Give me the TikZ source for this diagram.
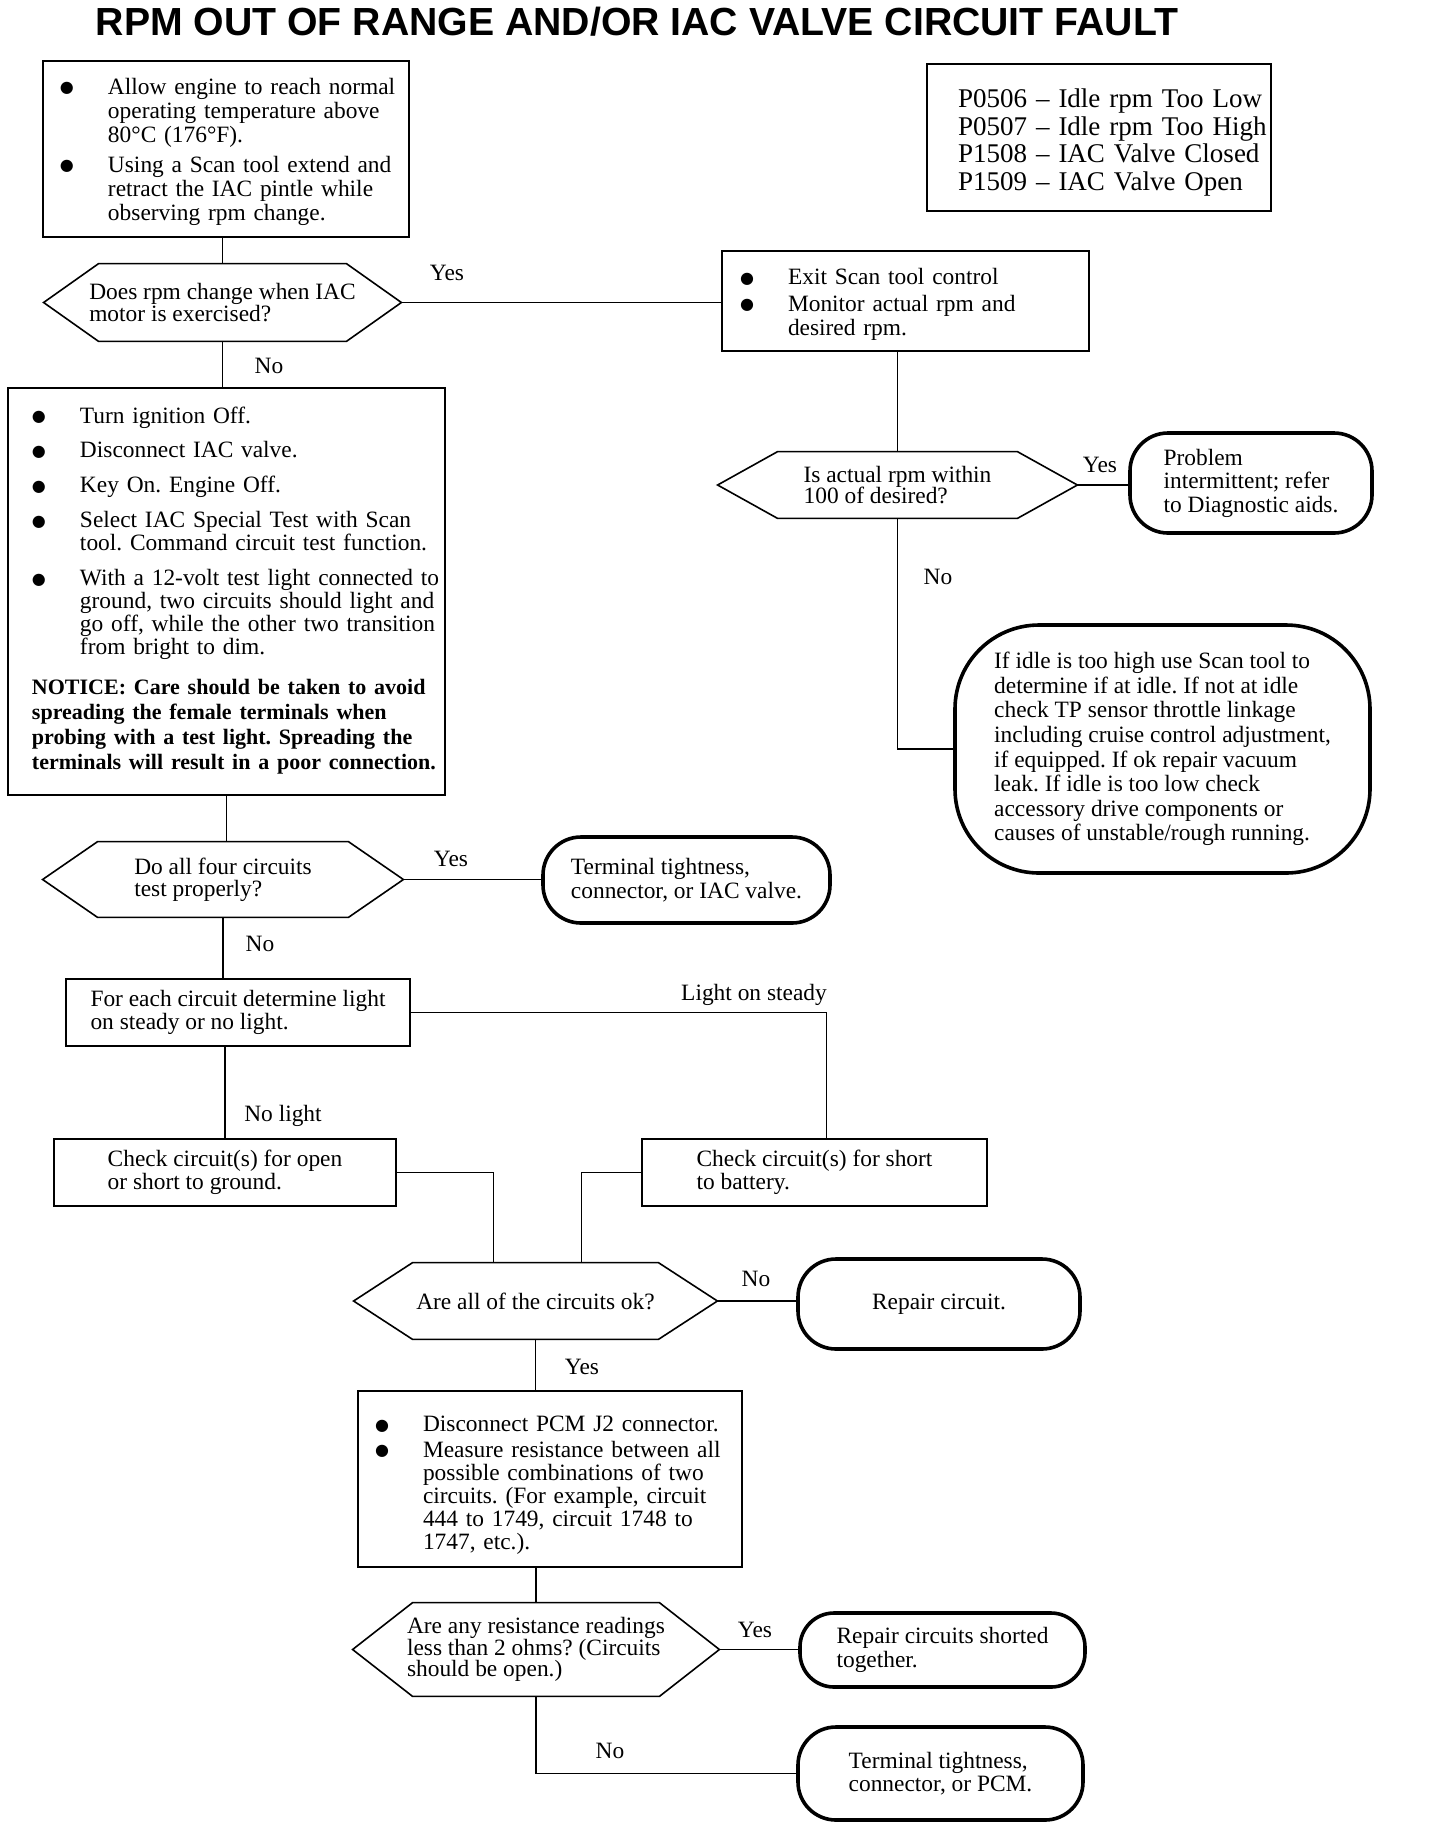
\documentclass[tikz,border=0pt]{standalone}
\usepackage{fontspec}
\usepackage{array}
\setmainfont{Liberation Serif}
\newfontfamily\titlefont{Liberation Sans}
\newfontfamily\dotfont{DejaVu Sans}
\usetikzlibrary{positioning}

\frenchspacing
\newcommand{\bodyfont}{\fontsize{11.7}{11.7}\selectfont}
\newcommand{\bigdot}{\raisebox{0.8pt}{\dotfont\fontsize{8}{8}\selectfont ●}}
\newcommand{\noticefont}{\fontsize{11}{11}\selectfont\bfseries}
\newenvironment{bullets}{\noindent\begin{tabular}{@{}p{24pt}@{}l@{}}}{\end{tabular}}
%hexagon drawn on the box of a decision node
\newcommand{\hexbox}[2]{%
  \draw[hexline] ([xshift=#2]#1.north west) -- ([xshift=-#2]#1.north east) -- (#1.east)
    -- ([xshift=-#2]#1.south east) -- ([xshift=#2]#1.south west) -- (#1.west) -- cycle;}

\tikzset{
  stepbox/.style={draw, line width=1pt, inner sep=0pt, align=left, font=\bodyfont},
  decide/.style={inner sep=0pt, align=left, font=\fontsize{11.7}{10.8}\selectfont},
  termbox/.style={draw, line width=1.8pt, rounded corners=19pt, inner sep=0pt, align=left, font=\bodyfont},
  hexline/.style={line width=0.8pt},
  link/.style={line width=0.7pt},
  lbl/.style={inner sep=0pt, font=\bodyfont}
}

\begin{document}
\begin{tikzpicture}[x=0.5pt, y=-0.5pt]
    \useasboundingbox (0,0) rectangle (1440,1828);

    %titolo
    \node[anchor=base, font=\titlefont\bfseries\fontsize{19.6}{22}\selectfont] (title) at (637,35) {RPM OUT OF RANGE AND/OR IAC VALVE CIRCUIT FAULT};

    %primo riquadro
    \node[stepbox, minimum width=183pt, minimum height=88pt, text width=166pt, font=\fontsize{11.7}{12}\selectfont] (b1) at (226,149) {\begin{bullets}
    \bigdot & Allow engine to reach normal\\
     & operating temperature above\\
     & 80°C (176°F).\\[3pt]
    \bigdot & Using a Scan tool extend and\\
     & retract the IAC pintle while\\
     & observing rpm change.\\[-3.5pt]
    \end{bullets}};

    %codici
    \node[stepbox, minimum width=172pt, minimum height=73.5pt, text width=141pt, font=\fontsize{13.5}{13.8}\selectfont] (codes) at (1099,137.5) {\noindent\begin{tabular}{@{}l@{}}
    P0506 -- Idle rpm Too Low\\
    P0507 -- Idle rpm Too High\\
    P1508 -- IAC Valve Closed\\
    P1509 -- IAC Valve Open\\[-6pt]
    \end{tabular}};

    %domanda rpm
    \node[decide, minimum width=178.5pt, minimum height=38.5pt] (h1) at (222.5,302.5) {Does rpm change when IAC\\motor is exercised?};
    \hexbox{h1}{27.5pt}

    \node[stepbox, minimum width=183.5pt, minimum height=50pt, text width=165.5pt, font=\fontsize{11.7}{12.2}\selectfont] (b2) at (905.5,301) {\begin{bullets}
    \bigdot & Exit Scan tool control\\[1pt]
    \bigdot & Monitor actual rpm and\\
     & desired rpm.\\[-4.5pt]
    \end{bullets}};

    %test del circuito
    \node[stepbox, minimum width=218.5pt, minimum height=203.5pt, text width=194.5pt, font=\fontsize{11.7}{11}\selectfont] (b3) at (226.5,591.5) {\begin{bullets}
    \bigdot & Turn ignition Off.\\[6pt]
    \bigdot & Disconnect IAC valve.\\[6pt]
    \bigdot & Key On. Engine Off.\\[6pt]
    \bigdot & Select IAC Special Test with Scan\\
     & tool. Command circuit test function.\\[6pt]
    \bigdot & With a 12-volt test light connected to\\
     & ground, two circuits should light and\\
     & go off, while the other two transition\\
     & from bright to dim.\\[9pt]
    \multicolumn{2}{@{}l@{}}{\noticefont NOTICE: Care should be taken to avoid}\\[1.5pt]
    \multicolumn{2}{@{}l@{}}{\noticefont spreading the female terminals when}\\[1.5pt]
    \multicolumn{2}{@{}l@{}}{\noticefont probing with a test light. Spreading the}\\[1.5pt]
    \multicolumn{2}{@{}l@{}}{\noticefont terminals will result in a poor connection.}
    \end{bullets}};

    %ramo destro
    \node[decide, minimum width=179.5pt, minimum height=33pt] (h2) at (897.5,485) {Is actual rpm within\\100 of desired?};
    \hexbox{h2}{30pt}
    \node[termbox, minimum width=121pt, minimum height=50pt] (t1) at (1251,483) {Problem\\intermittent; refer\\to Diagnostic aids.};
    \node[termbox, minimum width=207.5pt, minimum height=124pt, rounded corners=42pt, font=\fontsize{11.7}{12.3}\selectfont] (t2) at (1162.5,749) {If idle is too high use Scan tool to\\determine if at idle. If not at idle\\check TP sensor throttle linkage\\including cruise control adjustment,\\if equipped. If ok repair vacuum\\leak. If idle is too low check\\accessory drive components or\\causes of unstable/rough running.};

    %quattro circuiti
    \node[decide, minimum width=180pt, minimum height=37.5pt] (h3) at (223,879.5) {Do all four circuits\\test properly?};
    \hexbox{h3}{27.5pt}
    \node[termbox, minimum width=143.5pt, minimum height=43pt] (t3) at (686.5,880) {Terminal tightness,\\connector, or IAC valve.};

    \node[stepbox, minimum width=172pt, minimum height=33.5pt] (b4) at (238,1012.5) {For each circuit determine light\\on steady or no light.};
    \node[stepbox, minimum width=171pt, minimum height=33.5pt] (b5) at (225,1172.5) {Check circuit(s) for open\\or short to ground.};
    \node[stepbox, minimum width=172.5pt, minimum height=33.5pt] (b6) at (814.5,1172.5) {Check circuit(s) for short\\to battery.};

    \node[decide, minimum width=181.5pt, minimum height=38pt] (h4) at (535.5,1301) {Are all of the circuits ok?};
    \hexbox{h4}{29.5pt}
    \node[termbox, minimum width=141pt, minimum height=45pt] (t4) at (939,1304) {Repair circuit.};

    %resistenza
    \node[stepbox, minimum width=192pt, minimum height=88pt, text width=175pt, font=\fontsize{11.7}{11.2}\selectfont] (b7) at (550,1479) {\begin{bullets}
    \bigdot & Disconnect PCM J2 connector.\\[1.3pt]
    \bigdot & Measure resistance between all\\
     & possible combinations of two\\
     & circuits. (For example, circuit\\
     & 444 to 1749, circuit 1748 to\\
     & 1747, etc.).\\[-7pt]
    \end{bullets}};

    \node[decide, minimum width=183pt, minimum height=46.5pt] (h5) at (536,1649.5) {Are any resistance readings\\less than 2 ohms? (Circuits\\should be open.)};
    \hexbox{h5}{30pt}
    \node[termbox, minimum width=142.5pt, minimum height=37pt, rounded corners=17pt] (t5) at (942.5,1650) {Repair circuits shorted\\together.};
    \node[termbox, minimum width=142.5pt, minimum height=46.5pt] (t6) at (940.5,1773.5) {Terminal tightness,\\connector, or PCM.};

    %collegamenti
    \draw[link] (b1.south -| h1.north) -- (h1.north);
    \draw[link] (h1.east) -- (h1.east -| b2.west);
    \draw[link] (h1.south) -- (h1.south |- b3.north);
    \draw[link] (h2.north |- b2.south) -- (h2.north);
    \draw[link] (h2.east) -- (h2.east -| t1.west);
    \draw[link] (h2.south) |- (t2.west);
    \draw[link] (b3.south) -- (b3.south |- h3.north);
    \draw[link] (h3.east) -- (h3.east -| t3.west);
    \draw[link] (h3.south) -- (h3.south |- b4.north);
    \draw[link] (b4.east) -| ([xshift=6pt]b6.north);
    \draw[link] (b5.north |- b4.south) -- (b5.north);
    \draw[link] (b5.east) -| ([xshift=-21pt]h4.north);
    \draw[link] (b6.west) -| ([xshift=23pt]h4.north);
    \draw[link] (h4.east) -- (h4.east -| t4.west);
    \draw[link] (h4.south) -- (h4.south |- b7.north);
    \draw[link] (h5.north |- b7.south) -- (h5.north);
    \draw[link] (h5.east) -- (h5.east -| t5.west);
    \draw[link] (h5.south) |- (t6.west);

    %etichette
    \node[lbl] (ly1) at (447,273) {Yes};
    \node[lbl] (ln1) at (269,366) {No};
    \node[lbl] (ly2) at (1100,465) {Yes};
    \node[lbl] (ln2) at (938,577) {No};
    \node[lbl] (ly3) at (451,859) {Yes};
    \node[lbl] (ln3) at (260,944) {No};
    \node[lbl] (lsteady) at (754,995) {Light on steady};
    \node[lbl] (lnolight) at (283,1116) {No light};
    \node[lbl] (ln4) at (756,1279) {No};
    \node[lbl] (ly4) at (582,1367) {Yes};
    \node[lbl] (ly5) at (755,1630) {Yes};
    \node[lbl] (ln5) at (610,1751) {No};

\end{tikzpicture}
\end{document}
